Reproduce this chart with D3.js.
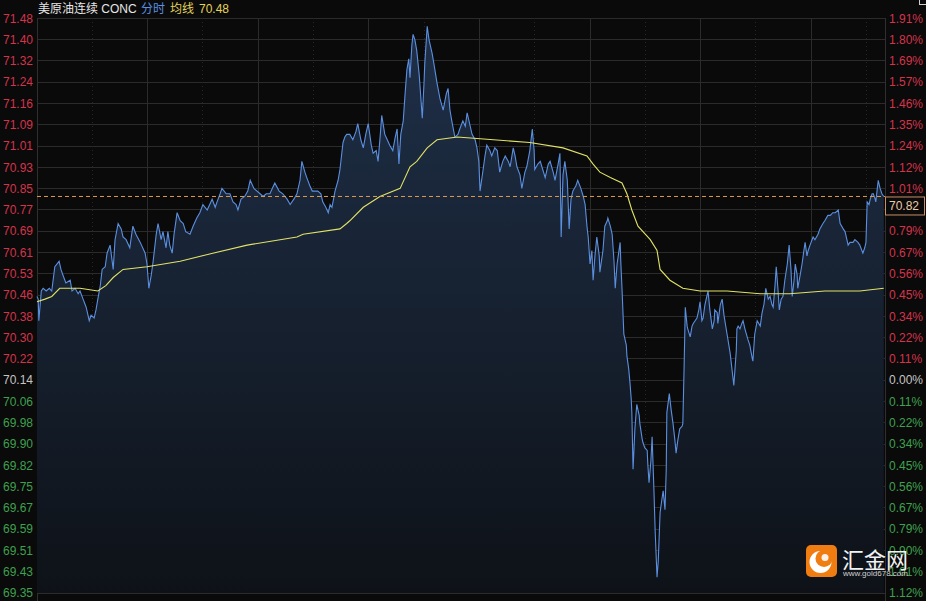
<!DOCTYPE html>
<html><head><meta charset="utf-8">
<script src="https://cdn.jsdelivr.net/npm/d3@7/dist/d3.min.js"></script>
<style>
html,body{margin:0;padding:0;background:#0a0a0a;overflow:hidden;}
svg{display:block;}
text{font-family:"Liberation Sans",Arial,"Noto Sans CJK SC",sans-serif;}
</style></head>
<body>
<svg id="chart" width="926" height="601"></svg>
<script>
// ---------- data ----------
const symbolName = "美原油连续 CONC";
const modeLabel = "分时";
const avgLabel = "均线";
const avgValue = "70.48";
const prevClose = 70.14;
const lastPrice = 70.82;
const sessionMinutes = 1380;

const priceLabels = ["71.48","71.40","71.32","71.24","71.16","71.09","71.01","70.93","70.85","70.77","70.69","70.61","70.53","70.46","70.38","70.30","70.22","70.14","70.06","69.98","69.90","69.82","69.75","69.67","69.59","69.51","69.43","69.35"];
const pctLabels = ["1.91%","1.80%","1.69%","1.57%","1.46%","1.35%","1.24%","1.12%","1.01%","0.90%","0.79%","0.67%","0.56%","0.45%","0.34%","0.22%","0.11%","0.00%","0.11%","0.22%","0.34%","0.45%","0.56%","0.67%","0.79%","0.90%","1.01%","1.12%"];

// [minute of session, price]
const priceSeries = [[0,70.45],[2,70.44],[3,70.36],[7,70.47],[10,70.48],[15,70.47],[20,70.48],[24,70.47],[29,70.56],[36,70.58],[39,70.55],[42,70.53],[47,70.50],[54,70.51],[57,70.47],[62,70.48],[67,70.46],[70,70.47],[75,70.44],[80,70.41],[85,70.36],[88,70.38],[93,70.37],[96,70.40],[99,70.44],[103,70.49],[106,70.55],[111,70.56],[114,70.61],[119,70.64],[124,70.55],[127,70.66],[132,70.72],[137,70.70],[140,70.67],[145,70.66],[151,70.63],[156,70.71],[161,70.68],[168,70.65],[176,70.61],[179,70.57],[182,70.48],[186,70.53],[189,70.58],[194,70.68],[197,70.72],[202,70.66],[205,70.69],[210,70.63],[213,70.69],[216,70.64],[220,70.61],[223,70.68],[228,70.76],[233,70.73],[238,70.72],[242,70.69],[249,70.68],[254,70.71],[260,70.74],[265,70.76],[270,70.79],[277,70.77],[285,70.81],[290,70.78],[293,70.80],[298,70.83],[301,70.85],[308,70.83],[314,70.83],[319,70.80],[324,70.79],[327,70.77],[332,70.81],[338,70.82],[343,70.84],[347,70.88],[353,70.85],[358,70.84],[363,70.83],[368,70.82],[373,70.83],[379,70.83],[387,70.87],[394,70.84],[400,70.83],[407,70.81],[412,70.79],[418,70.81],[423,70.83],[428,70.88],[431,70.95],[436,70.91],[439,70.89],[444,70.86],[448,70.84],[452,70.84],[457,70.84],[462,70.83],[465,70.80],[470,70.78],[474,70.76],[477,70.79],[480,70.78],[485,70.84],[490,70.88],[493,70.92],[498,71.02],[501,71.04],[504,71.05],[509,71.05],[514,71.03],[519,71.06],[522,71.09],[527,71.03],[531,71.00],[535,71.05],[539,71.09],[544,71.01],[547,70.98],[552,70.99],[555,70.95],[558,71.03],[561,71.12],[566,71.05],[570,71.03],[574,71.01],[579,70.99],[583,71.04],[586,71.07],[589,70.94],[592,71.05],[596,71.10],[599,71.20],[602,71.29],[605,71.33],[607,71.26],[610,71.38],[612,71.42],[615,71.40],[618,71.36],[622,71.27],[627,71.11],[630,71.25],[631,71.31],[635,71.45],[638,71.40],[643,71.35],[646,71.31],[651,71.24],[656,71.18],[661,71.14],[666,71.20],[669,71.22],[672,71.14],[675,71.10],[680,71.04],[685,71.05],[688,71.07],[693,71.10],[697,71.08],[700,71.13],[705,71.08],[708,71.05],[713,71.03],[716,71.00],[719,70.95],[721,70.84],[726,70.92],[729,70.97],[732,71.01],[737,70.99],[740,70.97],[745,71.00],[749,70.99],[753,70.91],[758,70.95],[762,70.97],[767,70.95],[770,70.93],[775,71.00],[778,70.97],[781,70.93],[786,70.90],[789,70.85],[794,70.91],[797,70.93],[802,70.99],[806,71.07],[809,70.99],[810,70.92],[815,70.94],[819,70.95],[823,70.92],[827,70.89],[832,70.94],[835,70.95],[840,70.91],[843,70.88],[848,70.94],[851,70.98],[853,70.67],[856,70.90],[859,70.95],[863,70.88],[866,70.70],[869,70.81],[872,70.84],[877,70.86],[880,70.88],[885,70.85],[889,70.82],[892,70.79],[895,70.71],[897,70.67],[900,70.57],[903,70.62],[905,70.51],[908,70.60],[911,70.67],[915,70.60],[916,70.54],[921,70.62],[924,70.71],[928,70.73],[929,70.74],[933,70.71],[936,70.68],[939,70.58],[941,70.48],[944,70.57],[949,70.65],[950,70.58],[952,70.48],[955,70.31],[959,70.27],[960,70.23],[963,70.18],[965,70.13],[967,70.07],[968,70.02],[970,69.81],[973,69.96],[976,70.05],[980,70.01],[981,69.98],[985,69.92],[986,69.91],[989,69.89],[993,69.88],[994,69.83],[996,69.76],[999,69.84],[1001,69.93],[1004,69.73],[1006,69.58],[1009,69.41],[1011,69.47],[1014,69.65],[1017,69.70],[1019,69.73],[1022,69.66],[1024,69.81],[1025,70.02],[1029,70.09],[1032,70.03],[1035,69.98],[1038,69.92],[1040,69.87],[1043,69.92],[1046,69.96],[1050,69.97],[1051,69.98],[1053,70.18],[1055,70.41],[1058,70.34],[1059,70.33],[1063,70.30],[1066,70.34],[1068,70.35],[1071,70.36],[1074,70.37],[1077,70.40],[1079,70.43],[1082,70.36],[1084,70.37],[1087,70.42],[1092,70.47],[1095,70.40],[1099,70.33],[1102,70.36],[1103,70.40],[1107,70.39],[1108,70.35],[1112,70.42],[1115,70.44],[1118,70.38],[1123,70.31],[1128,70.24],[1131,70.18],[1134,70.12],[1138,70.25],[1139,70.33],[1141,70.34],[1144,70.33],[1147,70.35],[1149,70.36],[1152,70.33],[1157,70.29],[1160,70.27],[1164,70.22],[1165,70.21],[1168,70.31],[1172,70.36],[1177,70.34],[1180,70.39],[1183,70.42],[1186,70.48],[1190,70.44],[1193,70.45],[1196,70.42],[1198,70.41],[1201,70.49],[1203,70.56],[1206,70.47],[1208,70.40],[1211,70.44],[1214,70.45],[1217,70.51],[1221,70.57],[1224,70.64],[1227,70.55],[1229,70.45],[1232,70.51],[1234,70.57],[1237,70.53],[1238,70.48],[1242,70.53],[1245,70.57],[1248,70.62],[1250,70.65],[1253,70.60],[1255,70.62],[1258,70.64],[1263,70.67],[1266,70.66],[1271,70.68],[1274,70.70],[1279,70.72],[1282,70.73],[1287,70.75],[1291,70.75],[1295,70.76],[1299,70.76],[1304,70.77],[1307,70.72],[1312,70.70],[1315,70.69],[1320,70.64],[1323,70.65],[1328,70.65],[1331,70.66],[1336,70.65],[1339,70.64],[1344,70.61],[1347,70.63],[1349,70.65],[1351,70.80],[1354,70.79],[1356,70.81],[1359,70.83],[1361,70.83],[1364,70.81],[1365,70.80],[1369,70.88],[1372,70.85],[1375,70.83],[1378,70.82]];

// [minute of session, average price]
const avgSeries = [[0,70.43],[13,70.44],[24,70.45],[37,70.48],[70,70.48],[99,70.47],[112,70.49],[124,70.52],[140,70.55],[179,70.56],[233,70.58],[286,70.61],[342,70.64],[423,70.67],[433,70.68],[493,70.70],[504,70.72],[509,70.73],[531,70.78],[558,70.82],[591,70.85],[607,70.93],[618,70.95],[635,71.00],[651,71.03],[684,71.04],[802,71.02],[856,71.00],[895,70.97],[905,70.94],[916,70.91],[933,70.89],[952,70.87],[960,70.83],[968,70.77],[978,70.71],[998,70.66],[1009,70.62],[1014,70.55],[1030,70.51],[1051,70.48],[1079,70.47],[1123,70.47],[1177,70.46],[1225,70.46],[1282,70.47],[1339,70.47],[1378,70.48]];

// ---------- chart ----------
const svg = d3.select("#chart");
const L = 37, R = 885, T = 18.3, B = 593;
const nAbove = 17, nBelow = 10;
const step = prevClose * 0.0191 / nAbove;
const yTop = prevClose + nAbove * step, yBot = prevClose - nBelow * step;

const x = d3.scaleLinear().domain([0, sessionMinutes]).range([L, R]);
const y = d3.scaleLinear().domain([yBot, yTop]).range([B, T]);
const tickVals = priceLabels.map((_, i) => prevClose + (nAbove - i) * step);
const tickColor = i => (i < nAbove ? "#d4344a" : i === nAbove ? "#c4c4c4" : "#3fa04f");

const defs = svg.append("defs");
const grad = defs.append("linearGradient").attr("id","fillGrad")
  .attr("gradientUnits","userSpaceOnUse").attr("x1",0).attr("x2",0).attr("y1",T).attr("y2",B);
grad.append("stop").attr("offset","0%").attr("stop-color","#1f3049");
grad.append("stop").attr("offset","100%").attr("stop-color","#0e1218");

// horizontal grid
svg.append("g").selectAll("line").data(tickVals).join("line")
  .attr("x1", L).attr("x2", R).attr("y1", d => y(d)).attr("y2", d => y(d))
  .attr("stroke", "#2b2b2b").attr("stroke-width", 1).attr("shape-rendering","crispEdges");

// vertical grid: every 90 minutes, solid on 3-hour marks
const vg = svg.append("g");
d3.range(90, sessionMinutes, 90).forEach(m => {
  vg.append("line").attr("x1", x(m)).attr("x2", x(m)).attr("y1", T).attr("y2", B)
    .attr("stroke", m % 180 === 0 ? "#2b2b2b" : "#262626").attr("shape-rendering","crispEdges")
    .attr("stroke-dasharray", m % 180 === 0 ? null : "1,3");
});
[0, sessionMinutes].forEach(m => vg.append("line").attr("x1", x(m)).attr("x2", x(m))
  .attr("y1", T).attr("y2", B + 8).attr("stroke", "#2f2f2f").attr("shape-rendering","crispEdges"));

// area + lines
const area = d3.area().x(d => x(d[0])).y0(B).y1(d => y(d[1]));
svg.append("path").datum(priceSeries).attr("d", area).attr("fill", "url(#fillGrad)");
svg.append("path").datum(priceSeries).attr("d", d3.line().x(d => x(d[0])).y(d => y(d[1])))
  .attr("fill","none").attr("stroke","#5b8fe0").attr("stroke-width",1.1);
svg.append("path").datum(avgSeries).attr("d", d3.line().x(d => x(d[0])).y(d => y(d[1])))
  .attr("fill","none").attr("stroke","#e2e266").attr("stroke-width",1.1);

// last price dashed line
svg.append("line").attr("x1", L).attr("x2", R).attr("y1", y(lastPrice)).attr("y2", y(lastPrice))
  .attr("stroke", "#e09a4a").attr("stroke-dasharray", "4,3").attr("stroke-width", 1);

// axes
const leftAxis = d3.axisLeft(y).tickValues(tickVals).tickSize(0).tickPadding(4)
  .tickFormat((d, i) => priceLabels[i]);
const gl = svg.append("g").attr("transform", `translate(${L},0)`).call(leftAxis);
gl.select(".domain").remove();
gl.selectAll("text").attr("font-size", 12).attr("fill", (d, i) => tickColor(i))
  .attr("font-family", '"Liberation Sans",Arial,sans-serif');

const rightAxis = d3.axisRight(y).tickValues(tickVals).tickSize(0).tickPadding(4)
  .tickFormat((d, i) => pctLabels[i]);
const gr = svg.append("g").attr("transform", `translate(${R},0)`).call(rightAxis);
gr.select(".domain").remove();
gr.selectAll("text").attr("font-size", 12).attr("fill", (d, i) => tickColor(i))
  .attr("font-family", '"Liberation Sans",Arial,sans-serif');

// last price tag (covers the 0.90% label, as in the source)
const ly = y(lastPrice);
svg.append("rect").attr("x", R + 0.5).attr("y", ly + 0.5).attr("width", 39).attr("height", 18)
  .attr("fill", "#0a0a0a").attr("stroke", "#c98f66").attr("stroke-width", 1);
svg.append("text").attr("x", R + 4).attr("y", ly + 13.5).attr("font-size", 12)
  .attr("fill", "#ecc9a6").text(lastPrice.toFixed(2));

// title
const title = svg.append("g").attr("font-size", 12);
title.append("text").attr("x", 38).attr("y", 13).attr("fill", "#e6e6e6").text(symbolName);
title.append("text").attr("x", 141).attr("y", 13).attr("fill", "#5b8fe0").text(modeLabel);
title.append("text").attr("x", 170).attr("y", 13).attr("fill", "#e2d35a").text(avgLabel);
title.append("text").attr("x", 199).attr("y", 13).attr("fill", "#e2d35a").text(avgValue);

// small corner icon
svg.append("rect").attr("x", 919.5).attr("y", -2.5).attr("width", 7).attr("height", 7)
  .attr("fill", "none").attr("stroke", "#cfcfcf");

// watermark
const wm = svg.append("g");
wm.append("rect").attr("x", 806).attr("y", 545).attr("width", 31).attr("height", 32).attr("rx", 5)
  .attr("fill", "#f07d12");
wm.append("circle").attr("cx", 820.5).attr("cy", 562).attr("r", 11).attr("fill", "#ffffff");
wm.append("circle").attr("cx", 824).attr("cy", 558.5).attr("r", 8.5).attr("fill", "#f07d12");
wm.append("circle").attr("cx", 825).attr("cy", 557.5).attr("r", 3.5).attr("fill", "#ffffff").attr("opacity", 0.9);
wm.append("text").attr("x", 842).attr("y", 568).attr("font-size", 22)
  .attr("font-family", '"Noto Sans CJK SC",sans-serif').attr("fill", "#f2f2f2").text("汇金网");
wm.append("text").attr("x", 843).attr("y", 576).attr("font-size", 8)
  .attr("fill", "#cfcfcf").text("www.gold678.com");
</script>
</body></html>
